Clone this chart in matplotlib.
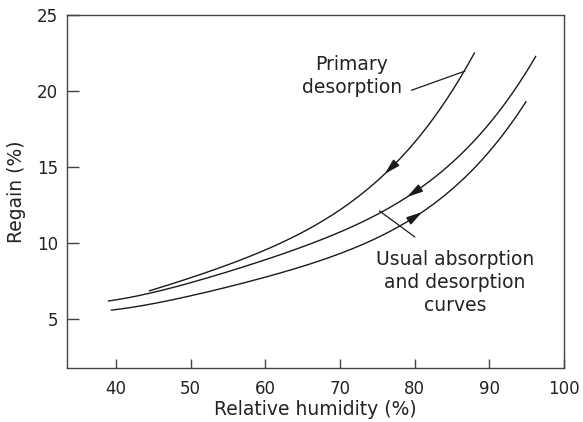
import numpy as np
import matplotlib
matplotlib.use('Agg')
import matplotlib.pyplot as plt

plt.rcParams['font.family'] = ['DejaVu Sans']

# curva de dessorção primária
rh_primaria = [44.5, 50, 55, 60, 65, 70, 75, 80, 85, 88]
regain_primaria = [6.85, 7.7, 8.6, 9.5, 10.7, 12.2, 14.1, 16.6, 20.0, 22.5]

# dessorção usual
rh_desorcao = [39, 45, 50, 55, 60, 65, 70, 75, 80, 85, 90, 93, 96.2]
regain_desorcao = [6.15, 6.8, 7.4, 8.1, 8.85, 9.7, 10.7, 11.95, 13.4, 15.3, 17.8, 19.7, 22.35]

# absorção usual
rh_absorcao = [39.4, 45, 50, 55, 60, 65, 70, 75, 80, 85, 90, 94.9]
regain_absorcao = [5.55, 6.05, 6.55, 7.1, 7.7, 8.4, 9.3, 10.4, 11.8, 13.5, 15.9, 19.35]

xticks = [40, 50, 60, 70, 80, 90, 100]
yticks = [5, 10, 15, 20, 25]


def suave(x, y):
    xs = np.linspace(x[0], x[-1], 200)
    p = np.polyfit(x, y, 4)
    return xs, np.polyval(p, xs)


fig = plt.figure(figsize=(5.83, 4.22), dpi=100)
ax = fig.add_axes([0.1144, 0.128, 0.853, 0.8365])

curvas = [(rh_primaria, regain_primaria, 76.0, -1),
          (rh_desorcao, regain_desorcao, 79.0, -1),
          (rh_absorcao, regain_absorcao, 81.0, 1)]

for x, y, xa, sentido in curvas:
    xs, ys = suave(x, y)
    ax.plot(xs, ys, color='#1a1a1a', lw=1.0)
    # seta sobre a curva
    x0 = xa - sentido * 1.2
    ax.annotate('', xy=(xa, np.interp(xa, xs, ys)), xytext=(x0, np.interp(x0, xs, ys)),
                arrowprops=dict(arrowstyle='-|>,head_length=0.95,head_width=0.26',
                                color='#1a1a1a', lw=1.0, shrinkA=0, shrinkB=0))

# rótulos
ax.text(71.6, 21.0, 'Primary\ndesorption', ha='center', va='center',
        fontsize=13.5, color='#222222', linespacing=1.25)
ax.plot([79.6, 86.7], [20.05, 21.3], color='#1a1a1a', lw=0.9)

ax.text(85.4, 7.4, 'Usual absorption\nand desorption\ncurves', ha='center', va='center',
        fontsize=13.5, color='#222222', linespacing=1.25)
ax.plot([75.3, 80.0], [12.1, 10.4], color='#1a1a1a', lw=0.9)

ax.set_xlim(33.4, 100)
ax.set_ylim(1.77, 25)
ax.set_xticks(xticks)
ax.set_yticks(yticks)
ax.tick_params(direction='in', length=6.5, width=1.0, color='#444444',
               labelsize=12, labelcolor='#222222', pad=9)
ax.tick_params(axis='y', length=8.5, pad=6)
for s in ax.spines.values():
    s.set_color('#444444')
    s.set_linewidth(1.0)

ax.set_xlabel('Relative humidity (%)', fontsize=13.5, color='#222222', labelpad=1)
ax.set_ylabel('Regain (%)', fontsize=13.5, color='#222222', labelpad=8)

plt.savefig('out.png', dpi=100)
